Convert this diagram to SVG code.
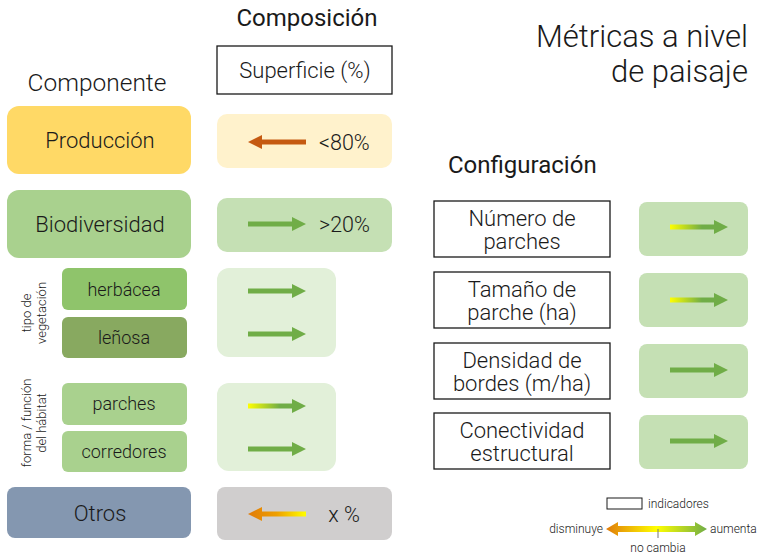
<svg xmlns="http://www.w3.org/2000/svg" width="758" height="556" viewBox="0 0 758 556">
<defs>
<style>
text{font-family:Roboto,"Liberation Sans",sans-serif;fill:#1a1a1a;font-weight:300}
.c{text-anchor:middle}
.t22{font-size:22px}
.t20{font-size:21.5px}
.ti{font-size:22px}
.t18{font-size:18px}
.t13{font-size:13px}
.t12{font-size:12px}
.ind{fill:#fff;stroke:#1a1a1a;stroke-width:1.3}
.g{fill:#70AD47}
.o{fill:#C55A11}
</style>
<linearGradient id="yg" x1="0" y1="0" x2="1" y2="0"><stop offset="0" stop-color="#FFFF00"/><stop offset="0.55" stop-color="#70AD47"/><stop offset="1" stop-color="#70AD47"/></linearGradient>
<linearGradient id="oy" x1="0" y1="0" x2="1" y2="0"><stop offset="0" stop-color="#E07B0A"/><stop offset="0.5" stop-color="#EFA000"/><stop offset="1" stop-color="#FFFF00"/></linearGradient>
<linearGradient id="leg" x1="0" y1="0" x2="1" y2="0"><stop offset="0" stop-color="#E07B0A"/><stop offset="0.5" stop-color="#FFFF00"/><stop offset="1" stop-color="#70AD47"/></linearGradient>
<path id="ar" d="M0,-2.5 H44 V-7 L58,0 L44,7 V2.5 H0 Z"/>
<path id="al" d="M0,0 L14,-7 V-2.5 H58 V2.5 H14 V7 Z"/>
</defs>

<g id="titles">
<text class="c" x="307" y="26" style="font-size:24px;font-weight:400">Composición</text>
<text class="c" x="97" y="91" style="font-size:24.5px">Componente</text>
<text x="748" y="47" style="font-size:31px;text-anchor:end">Métricas a nivel</text>
<text x="748" y="82" style="font-size:31px;text-anchor:end">de paisaje</text>
<text x="448" y="173" style="font-size:24px;font-weight:400">Configuración</text>
</g>

<g id="superficie">
<rect class="ind" x="217" y="46" width="175" height="48"/>
<text class="c" x="305" y="78" style="font-size:22px">Superficie (%)</text>
</g>

<g id="produccion">
<rect x="7" y="106" width="184" height="68" rx="12" fill="#FFD966"/>
<text class="c t22" x="100" y="148">Producción</text>
</g>
<g id="produccion-val">
<rect x="217" y="114" width="175" height="54" rx="10" fill="#FFF2CC"/>
<use href="#al" x="248" y="142" class="o"/>
<text class="t20" x="319" y="150">&lt;80%</text>
</g>

<g id="biodiversidad">
<rect x="7" y="190" width="184" height="68" rx="12" fill="#A9D18E"/>
<text class="c t22" x="100" y="232">Biodiversidad</text>
</g>
<g id="biodiversidad-val">
<rect x="217" y="198" width="175" height="54" rx="10" fill="#C5E0B4"/>
<use href="#ar" x="248" y="224" class="g"/>
<text class="t20" x="319" y="232">&gt;20%</text>
</g>

<g id="tipo-vegetacion">
<text class="c t13" transform="translate(31,313) rotate(-90)">tipo de</text>
<text class="c t13" transform="translate(46,313) rotate(-90)">vegetación</text>
</g>
<g id="herbacea">
<rect x="62" y="268" width="125" height="42" rx="6" fill="#8FC46B"/>
<text class="c t18" x="124" y="296">herbácea</text>
</g>
<g id="lenosa">
<rect x="62" y="317" width="125" height="41" rx="6" fill="#88A960"/>
<text class="c t18" x="124" y="344">leñosa</text>
</g>
<g id="vegetacion-val">
<rect x="217" y="268" width="119" height="89" rx="12" fill="#E2F0D9"/>
<use href="#ar" x="248" y="291" class="g"/>
<use href="#ar" x="248" y="334" class="g"/>
</g>

<g id="forma-habitat">
<text class="c t13" transform="translate(31,423) rotate(-90)">forma / función</text>
<text class="c t13" transform="translate(46,423) rotate(-90)">del hábitat</text>
</g>
<g id="parches">
<rect x="62" y="383" width="125" height="42" rx="6" fill="#A9D18E"/>
<text class="c t18" x="124" y="410">parches</text>
</g>
<g id="corredores">
<rect x="62" y="431" width="125" height="41" rx="6" fill="#A9D18E"/>
<text class="c t18" x="124" y="458">corredores</text>
</g>
<g id="habitat-val">
<rect x="217" y="383" width="119" height="88" rx="12" fill="#E2F0D9"/>
<use href="#ar" x="248" y="406" fill="url(#yg)"/>
<use href="#ar" x="248" y="449" class="g"/>
</g>

<g id="otros">
<rect x="7" y="487" width="184" height="51" rx="8" fill="#8497B0"/>
<text class="c t22" x="100" y="521">Otros</text>
</g>
<g id="otros-val">
<rect x="217" y="487" width="175" height="53" rx="8" fill="#D0CECE"/>
<use href="#al" x="248" y="514" fill="url(#oy)"/>
<text class="c t20" x="344" y="522">x %</text>
</g>

<g id="numero-parches">
<rect class="ind" x="434" y="201" width="176" height="56"/>
<text class="c ti" x="522" y="226">Número de</text>
<text class="c ti" x="522" y="249">parches</text>
</g>
<g id="numero-parches-val">
<rect x="639" y="202" width="109" height="54" rx="8" fill="#C5E0B4"/>
<use href="#ar" x="670" y="227" fill="url(#yg)"/>
</g>
<g id="tamano-parche">
<rect class="ind" x="434" y="272" width="176" height="56"/>
<text class="c ti" x="522" y="297">Tamaño de</text>
<text class="c ti" x="522" y="320">parche (ha)</text>
</g>
<g id="tamano-parche-val">
<rect x="639" y="273" width="109" height="54" rx="8" fill="#C5E0B4"/>
<use href="#ar" x="670" y="300" fill="url(#yg)"/>
</g>
<g id="densidad-bordes">
<rect class="ind" x="434" y="343" width="176" height="56"/>
<text class="c ti" x="522" y="368">Densidad de</text>
<text class="c ti" x="522" y="391">bordes (m/ha)</text>
</g>
<g id="densidad-bordes-val">
<rect x="639" y="344" width="109" height="54" rx="8" fill="#C5E0B4"/>
<use href="#ar" x="670" y="370" class="g"/>
</g>
<g id="conectividad">
<rect class="ind" x="434" y="413" width="176" height="56"/>
<text class="c ti" x="522" y="438">Conectividad</text>
<text class="c ti" x="522" y="461">estructural</text>
</g>
<g id="conectividad-val">
<rect x="639" y="415" width="109" height="54" rx="8" fill="#C5E0B4"/>
<use href="#ar" x="670" y="441" class="g"/>
</g>

<g id="legend">
<rect class="ind" x="607" y="498" width="35" height="11" style="stroke-width:1"/>
<text class="t12" x="648" y="508">indicadores</text>
<path d="M606,529 L618,522 V526 H695 V522 L707,529 L695,536 V532 H618 V536 Z" fill="url(#leg)"/>
<line x1="658" y1="529" x2="658" y2="538" stroke="#777" stroke-width="1"/>
<text class="t12" x="603" y="533" style="text-anchor:end">disminuye</text>
<text class="t12" x="710" y="533">aumenta</text>
<text class="c t12" x="658" y="552">no cambia</text>
</g>
</svg>
